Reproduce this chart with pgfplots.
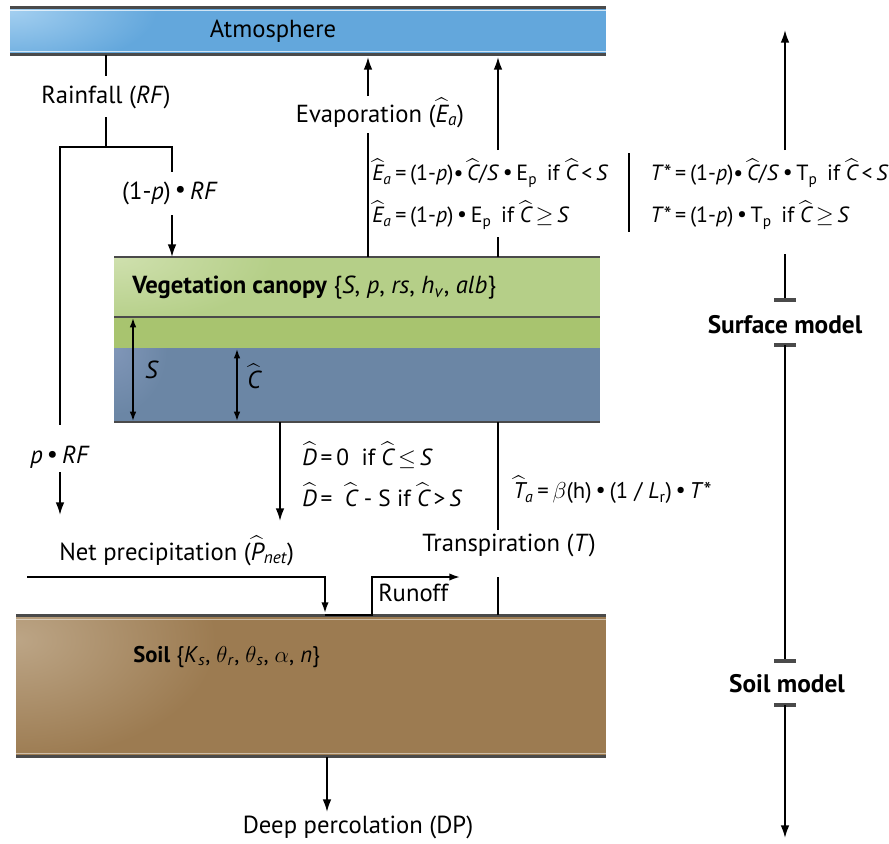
\documentclass[border=0pt]{standalone}
\usepackage{pgfplots}
\pgfplotsset{compat=1.18}
\usepackage{amsmath}
\usepackage{fontspec}
\setmainfont{PT Sans}
\usetikzlibrary{arrows.meta}
\definecolor{atm}{HTML}{63A7DC}
\definecolor{atmlight}{HTML}{A3CFF0}
\definecolor{vegtop}{HTML}{B5CF88}
\definecolor{vegtoplight}{HTML}{CFE0AE}
\definecolor{vegmid}{HTML}{A8C46F}
\definecolor{vegblue}{HTML}{6B86A5}
\definecolor{vegbluelight}{HTML}{8096B8}
\definecolor{soil}{HTML}{9C7B51}
\definecolor{soillight}{HTML}{BCA586}
\definecolor{edge}{HTML}{4A4A4A}
\newcommand{\hatit}[1]{\ensuremath{\widehat{\text{\itshape #1}}}}
\newcommand{\hatsub}[2]{\ensuremath{\widehat{\text{\itshape #1}}_{\text{\itshape #2}}}}
\newcommand{\bul}{\,\raisebox{0.1ex}{\textbullet}\,}
\begin{document}
\begin{tikzpicture}[
  arr/.style={line width=1.3pt,-{Latex[length=9.5pt,width=6.5pt]}},
  ln/.style={line width=1.3pt},
  txt/.style={font=\fontsize{18.5}{22}\selectfont, inner sep=0pt},
  frm/.style={font=\fontsize{16.5}{20}\selectfont, inner sep=0pt},
  tbar/.style={line width=3pt, edge}
]
\begin{axis}[hide axis, scale only axis, width=666.75pt, height=632.25pt,
  xmin=0, xmax=889, ymin=0, ymax=843, y dir=reverse, clip=false]
\addplot[draw=none] coordinates {(0,0) (889,843)};

% ---------- Atmosphere ----------
\fill[atm] (10,7) rectangle (606,55);
\begin{scope}
\clip (10,7) rectangle (606,55);
\shade[inner color=atmlight, outer color=atm] (10,10) ellipse [x radius=110pt, y radius=45pt];
\end{scope}
\draw[edge, line width=1.6pt] (10,7.5) -- (606,7.5);
\draw[edge, line width=1.6pt] (10,54.5) -- (606,54.5);
\draw[white, opacity=0.7, line width=0.6pt] (10,10.5) -- (606,10.5);
\draw[white, opacity=0.7, line width=0.6pt] (10,51) -- (606,51);
\node[txt] at (273,31) {Atmosphere};

% ---------- Vegetation canopy ----------
\fill[vegtop] (114,257) rectangle (600,317);
\begin{scope}
\clip (114,257) rectangle (600,317);
\shade[inner color=vegtoplight, outer color=vegtop] (114,257) ellipse [x radius=120pt, y radius=50pt];
\end{scope}
\fill[vegmid] (114,317) rectangle (600,348);
\fill[vegblue] (114,348) rectangle (600,422);
\begin{scope}
\clip (114,348) rectangle (600,422);
\shade[inner color=vegbluelight, outer color=vegblue] (114,348) ellipse [x radius=40pt, y radius=50pt];
\end{scope}
\draw[edge, line width=1.2pt] (114,257) -- (600,257);
\draw[edge, line width=1.0pt] (114,317) -- (600,317);
\draw[edge, line width=1.5pt] (114,422) -- (600,422);
\node[txt, anchor=west] at (132,288)
  {\textbf{Vegetation canopy} \{\textit{S}, \textit{p}, \textit{rs}, \textit{h}\textsubscript{\textit{v}}, \textit{alb}\}};
\draw[line width=1.2pt, {Latex[length=7pt,width=5pt]}-{Latex[length=7pt,width=5pt]}] (133,318) -- (133,421);
\draw[line width=1.2pt, {Latex[length=7pt,width=5pt]}-{Latex[length=7pt,width=5pt]}] (237,349) -- (237,421);
\node[txt] at (152,370) {\textit{S}};
\node[txt] at (254,376) {\hatit{C}};

% ---------- Soil ----------
\fill[soil] (16,615) rectangle (606,757);
\begin{scope}
\clip (16,615) rectangle (606,757);
\shade[inner color=soillight, outer color=soil] (16,640) ellipse [x radius=150pt, y radius=90pt];
\end{scope}
\draw[edge, line width=1.6pt] (16,615.5) -- (606,615.5);
\draw[edge, line width=1.6pt] (16,756.5) -- (606,756.5);
\draw[white, opacity=0.5, line width=0.6pt] (16,619) -- (606,619);
\draw[white, opacity=0.5, line width=0.6pt] (16,753) -- (606,753);
\node[txt, anchor=west, font=\fontsize{17}{20}\selectfont] at (133,657)
  {\textbf{Soil} \{\textit{K}\textsubscript{\textit{s}}, $\theta$\textsubscript{\textit{r}}, $\theta$\textsubscript{\textit{s}}, $\alpha$, \textit{n}\}};

% ---------- Rainfall ----------
\draw[ln] (106,55) -- (106,76);
\node[txt] at (106,97) {Rainfall (\textit{RF})};
\draw[ln] (106,117) -- (106,147);
\draw[ln] (60,147) -- (172,147);
\draw[ln] (172,146.4) -- (172,172);
\draw[ln] (60,146.4) -- (60,425);
\node[txt] at (170,193) {(1-\textit{p})\bul\textit{RF}};
\draw[arr] (172,215) -- (172,257);
\node[txt] at (60,457) {\textit{p}\bul\textit{RF}};
\draw[arr] (60,472) -- (60,515);

% ---------- Evaporation ----------
\draw[arr] (368,96) -- (368,57);
\node[txt] at (380,113) {Evaporation (\hatsub{E}{a})};
\draw[ln] (368,133) -- (368,257);
\draw[arr] (498,150) -- (498,57);
\draw[ln] (498,237) -- (498,257);
\node[frm, anchor=west] at (372,173) {\hatsub{E}{a}\,=\,(1-\textit{p})\textbullet\,\hatit{C}/\textit{S}\bul E\textsubscript{p} \,if \hatit{C}\,<\,\textit{S}};
\node[frm, anchor=west] at (372,215) {\hatsub{E}{a}\,=\,(1-\textit{p})\bul E\textsubscript{p} \,if \hatit{C}\,$\geq$\,\textit{S}};
\draw[ln] (629,153) -- (629,232);
\node[frm, anchor=west] at (650,173) {\textit{T}*\,=\,(1-\textit{p})\textbullet\,\hatit{C}/\textit{S}\bul T\textsubscript{p} \,if \hatit{C}\,<\,\textit{S}};
\node[frm, anchor=west] at (650,215) {\textit{T}*\,=\,(1-\textit{p})\bul T\textsubscript{p} \,if \hatit{C}\,$\geq$\,\textit{S}};

% ---------- Drainage / transpiration ----------
\draw[arr] (280,422) -- (280,521);
\node[frm, anchor=west, font=\fontsize{17.5}{21}\selectfont] at (302,455) {\hatit{D}\,=\,0 \ if \hatit{C}\,$\leq$\,\textit{S}};
\node[frm, anchor=west, font=\fontsize{17.5}{21}\selectfont] at (302,495) {\hatit{D}\,= \ \hatit{C} - S if \hatit{C}\,>\,\textit{S}};
\draw[ln] (498,422) -- (498,530);
\node[frm, anchor=west, font=\fontsize{17}{21}\selectfont] at (513,490) {\hatsub{T}{a}\,=\,$\beta$(h)\bul(1 / \textit{L}\textsubscript{r})\bul\textit{T}*};
\node[txt, anchor=west] at (422,545) {Transpiration (\textit{T})};
\draw[ln] (498,577) -- (498,615);

% ---------- Net precipitation / runoff ----------
\node[txt, anchor=west] at (59,551) {Net precipitation (\hatsub{P}{net})};
\draw[line width=1.3pt,-{Latex[length=8pt,width=5.5pt]}] (27,577) -| (325,613);
\draw[line width=1.3pt,-{Latex[length=8pt,width=5.5pt]}] (325,615) -- (372,615) -- (372,577) -- (460,577);
\node[txt, anchor=west] at (378,593) {Runoff};

% ---------- Deep percolation ----------
\draw[arr] (327,757) -- (327,812);
\node[txt] at (358,827) {Deep percolation (DP)};

% ---------- Model scale ----------
\draw[arr] (785,150) -- (785,30);
\draw[ln] (785,254) -- (785,300);
\draw[tbar] (774,300) -- (796,300);
\node[txt, font=\fontsize{19}{22}\selectfont\bfseries] at (785,325) {Surface model};
\draw[tbar] (774,345) -- (796,345);
\draw[ln] (785,345) -- (785,661);
\draw[tbar] (774,661) -- (796,661);
\node[txt, font=\fontsize{19}{22}\selectfont\bfseries] at (787,684) {Soil model};
\draw[tbar] (774,705) -- (796,705);
\draw[arr] (785,705) -- (785,838);
\end{axis}
\pgfresetboundingbox
\path (current axis.south west) rectangle (current axis.north east);
\end{tikzpicture}
\end{document}
